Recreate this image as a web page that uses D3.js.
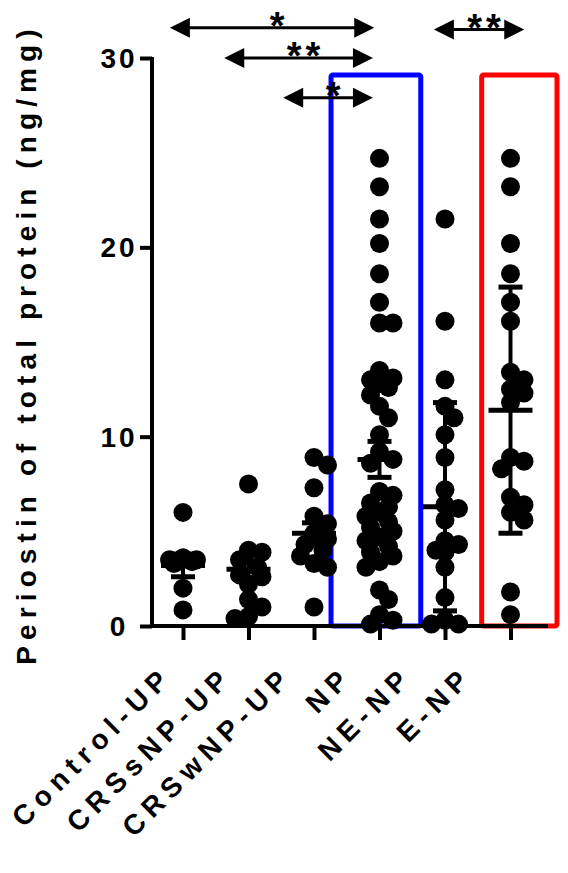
<!doctype html>
<html>
<head>
<meta charset="utf-8">
<script src="https://cdn.jsdelivr.net/npm/d3@7/dist/d3.min.js"></script>
<style>
body{margin:0;padding:0;background:#fff;}
svg text{font-family:"Liberation Sans",Arial,sans-serif;font-weight:bold;fill:#000;}
</style>
</head>
<body>
<svg id="chart"></svg>
<script>
// groups on the x axis
var groups = ["Control-UP","CRSsNP-UP","CRSwNP-UP","NP","NE-NP","E-NP"];

// periostin values per group (ng/mg)
var controlUP = [6.0, 3.6, 3.5, 3.5, 3.4, 3.3, 2.0, 0.85];
var crssnpUP = [7.5, 4.0, 3.9, 3.5, 3.1, 2.7, 2.6, 2.2, 1.4, 1.0, 0.5, 0.4];
var crswnpUP = [8.9, 8.5, 7.3, 5.8, 5.4, 4.9, 4.6, 4.3, 4.0, 3.7, 3.3, 3.1, 1.0];
var np = [24.7, 23.2, 21.5, 20.2, 18.6, 17.1, 16.0, 16.0, 13.5, 13.1, 13.0, 12.8, 12.6, 12.2,
	11.6, 11.0, 10.1, 9.2, 8.8, 8.6, 7.1, 6.9, 6.5, 6.3, 6.0, 5.8, 5.5, 5.2, 5.0, 4.7, 4.5,
	4.2, 3.9, 3.7, 3.4, 3.1, 1.9, 1.4, 0.6, 0.3, 0.1];
var neNP = [21.5, 16.1, 13.0, 11.6, 11.0, 10.1, 8.9, 7.2, 6.4, 6.2, 5.6, 4.5, 4.3, 4.0, 3.9,
	3.1, 1.5, 0.3, 0.1, 0.1];
var eNP = [24.7, 23.2, 20.2, 18.6, 17.1, 16.1, 13.4, 13.0, 12.5, 12.3, 11.8, 8.9, 8.7, 8.3,
	6.8, 6.4, 6.0, 5.6, 1.8, 0.6];
var allValues = [controlUP, crssnpUP, crswnpUP, np, neNP, eNP];

// mean and error bar half-length
var means = [3.2, 3.0, 4.9, 8.8, 6.3, 11.4];
var errs = [0.6, 0.45, 0.55, 0.95, 5.5, 6.5];

var yTicks = [0, 10, 20, 30];

// significance arrows (ends in group-index units, level in ng/mg)
var compFrom = [-0.2, 0.63, 1.53, 3.83];
var compTo = [2.92, 2.9, 2.9, 5.21];
var compLevel = [31.6, 30.0, 27.9, 31.5];
var compLabel = ["*", "**", "*", "**"];

// highlight boxes
var boxFrom = [2.26, 4.56];
var boxTo = [3.63, 5.71];
var boxTop = 29.1;
var boxColor = ["#0000ff", "#ff0000"];

var width = 568, height = 873;
var svg = d3.select("#chart").attr("width", width).attr("height", height);

var x = d3.scaleLinear().domain([0, 5]).range([183, 510.5]);
var y = d3.scaleLinear().domain([0, 30]).range([626, 58]);
var labelX = d3.scaleLinear().domain([0, 5]).range([174, 474]);

//highlight boxes
for(var i=0;i<boxFrom.length;i++){
	svg.append("rect")
		.attr("x", x(boxFrom[i]))
		.attr("y", y(boxTop))
		.attr("width", x(boxTo[i])-x(boxFrom[i]))
		.attr("height", y(0)-y(boxTop))
		.attr("rx", 2)
		.attr("fill", "none")
		.attr("stroke", boxColor[i])
		.attr("stroke-width", 5);
}

//y axis
var yAxis = d3.axisLeft(y).tickValues(yTicks).tickSize(12).tickPadding(0).tickFormat("");
var gy = svg.append("g").attr("transform", "translate(152,0)").call(yAxis);
gy.select(".domain").attr("d", "M0,"+(y(30)-1)+"V"+(y(0)+2)).attr("stroke-width", 4).attr("stroke", "#000");
gy.selectAll(".tick line").attr("stroke-width", 4).attr("stroke", "#000");
svg.selectAll(".ytl").data(yTicks).enter().append("text")
	.attr("class", "ytl")
	.attr("x", 119)
	.attr("y", function(d){return y(d);})
	.attr("dy", "0.36em")
	.attr("text-anchor", "middle")
	.attr("font-size", 28)
	.attr("letter-spacing", 3)
	.text(function(d){return d;});

//x axis
var xAxis = d3.axisBottom(x).tickValues(d3.range(groups.length)).tickSize(14).tickFormat("");
var gx = svg.append("g").attr("transform", "translate(0,626)").call(xAxis);
gx.select(".domain").attr("d", "M150,0H548").attr("stroke-width", 4).attr("stroke", "#000");
gx.selectAll(".tick line").attr("stroke-width", 4).attr("stroke", "#000");

svg.selectAll(".xtl").data(groups).enter().append("text")
	.attr("class", "xtl")
	.attr("text-anchor", "end")
	.attr("font-size", 28)
	.attr("letter-spacing", 6.5)
	.attr("transform", function(d,i){return "translate("+labelX(i)+",678) rotate(-45)";})
	.text(function(d){return d;});

//y title
svg.append("text")
	.attr("transform", "translate(36,344) rotate(-90)")
	.attr("text-anchor", "middle")
	.attr("font-size", 28)
	.attr("letter-spacing", 6.1)
	.text("Periostin of total protein (ng/mg)");

//dots, spread sideways where they overlap
var r = 9.5, step = 9, minD = 12;
function swarm(vals){
	var sorted = vals.slice().sort(function(a,b){return b-a;});
	var placed = [];
	var cands = [0, step, -step, 1.5*step, -1.5*step];
	sorted.forEach(function(v){
		var py = y(v), best = null, bestD = -1;
		for(var c=0;c<cands.length;c++){
			var d = d3.min(placed, function(p){return Math.hypot(p.dx-cands[c], p.py-py);});
			if(d===undefined || d>=minD){best = cands[c]; break;}
			if(d>bestD){bestD = d; best = cands[c];}
		}
		placed.push({v:v, dx:best, py:py});
	});
	return placed;
}

for(var i=0;i<groups.length;i++){
	var pts = swarm(allValues[i]);
	var g = svg.append("g");
	g.selectAll("circle").data(pts).enter().append("circle")
		.attr("cx", function(d){return x(i)+d.dx;})
		.attr("cy", function(d){return d.py;})
		.attr("r", r)
		.attr("fill", "#000");

	//mean and error bars
	var cx = x(i);
	g.append("line").attr("x1", cx).attr("x2", cx)
		.attr("y1", y(means[i]-errs[i])).attr("y2", y(means[i]+errs[i]))
		.attr("stroke", "#000").attr("stroke-width", 4);
	g.append("line").attr("x1", cx-22).attr("x2", cx+22)
		.attr("y1", y(means[i])).attr("y2", y(means[i]))
		.attr("stroke", "#000").attr("stroke-width", 5);
	[means[i]-errs[i], means[i]+errs[i]].forEach(function(e){
		g.append("line").attr("x1", cx-12).attr("x2", cx+12)
			.attr("y1", y(e)).attr("y2", y(e))
			.attr("stroke", "#000").attr("stroke-width", 5);
	});
}

//significance arrows
var head = 20, half = 10;
for(var i=0;i<compFrom.length;i++){
	var x1 = x(compFrom[i]), x2 = x(compTo[i]), ly = y(compLevel[i]);
	var a = svg.append("g");
	a.append("line").attr("x1", x1+head-2).attr("x2", x2-head+2)
		.attr("y1", ly).attr("y2", ly)
		.attr("stroke", "#000").attr("stroke-width", 3);
	a.append("path")
		.attr("d", "M"+x1+","+ly+"L"+(x1+head)+","+(ly-half)+"L"+(x1+head)+","+(ly+half)+"Z")
		.attr("fill", "#000");
	a.append("path")
		.attr("d", "M"+x2+","+ly+"L"+(x2-head)+","+(ly-half)+"L"+(x2-head)+","+(ly+half)+"Z")
		.attr("fill", "#000");
	a.append("text")
		.attr("x", (x1+x2)/2+7)
		.attr("y", ly+11)
		.attr("text-anchor", "middle")
		.attr("font-size", 38)
		.attr("letter-spacing", 4)
		.text(compLabel[i]);
}
</script>
</body>
</html>
